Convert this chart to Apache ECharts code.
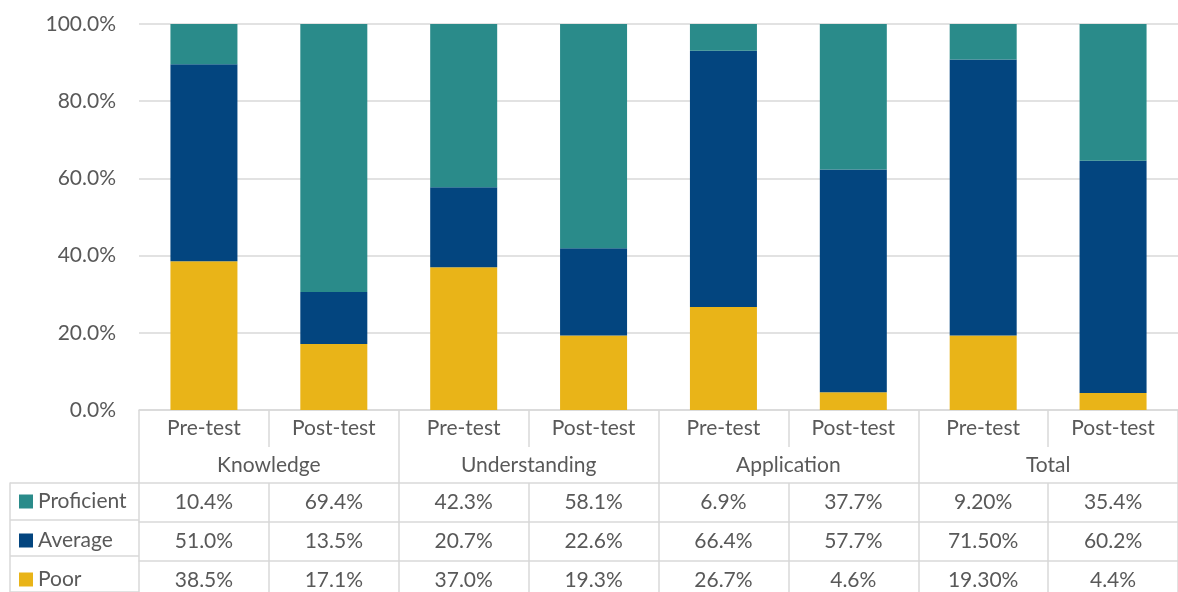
<!DOCTYPE html>
<html>
<head>
<meta charset="utf-8">
<script src="https://cdn.jsdelivr.net/npm/echarts@6/dist/echarts.min.js"></script>
<style>
  html, body { margin: 0; padding: 0; background: #fff; }
  #chart { width: 1178px; height: 592px; }
</style>
</head>
<body>
<div id="chart"></div>
<script>
// data
const categories = ['Pre-test', 'Post-test', 'Pre-test', 'Post-test', 'Pre-test', 'Post-test', 'Pre-test', 'Post-test']
const groups = ['Knowledge', 'Understanding', 'Application', 'Total']
const seriesNames = ['Proficient', 'Average', 'Poor']
const proficient = [10.4, 69.4, 42.3, 58.1, 6.9, 37.7, 9.2, 35.4]
const average = [51.0, 13.5, 20.7, 22.6, 66.4, 57.7, 71.5, 60.2]
const poor = [38.5, 17.1, 37.0, 19.3, 26.7, 4.6, 19.3, 4.4]
const decimals = [1, 1, 1, 1, 1, 1, 2, 1] // how each column is printed in the table
const yMin = 0
const yMax = 100
const yStep = 20

const colors = { Proficient: '#2a8b8a', Average: '#03457f', Poor: '#e9b418' }
const textColor = '#595959'
const lineColor = '#d9d9d9'
const font = 'Lato'
const fontSize = 21

// 100% stacked: share of each column total
function share (arr, i) {
  let sum = proficient[i] + average[i] + poor[i]
  return arr[i] / sum * 100
}
function pct (arr) {
  return arr.map((v, i) => share(arr, i))
}
function fmt (arr) {
  return arr.map((v, i) => v.toFixed(decimals[i]) + '%')
}

let chart = echarts.init(document.getElementById('chart'))

let lineStyle = { color: lineColor, width: 1.5 }
let labelStyle = { color: textColor, fontFamily: font, fontSize: fontSize }

// one axis per table row, hung below the plot; the row key sits in the axis name
function tableRow (name, data, offset) {
  let rich = { t: { color: textColor, fontFamily: font, fontSize: fontSize, padding: [0, 0, 0, 5] } }
  rich[name] = { width: 14, height: 14, backgroundColor: colors[name] }
  return {
    type: 'category',
    gridIndex: 0,
    position: 'bottom',
    offset: offset,
    data: data,
    name: '{' + name + '|}{t|' + name + '}',
    nameLocation: 'start',
    nameGap: 120,
    nameTextStyle: { align: 'left', verticalAlign: 'top', padding: [8, 0, 0, 0], rich: rich },
    axisLine: { show: true, lineStyle: lineStyle },
    axisTick: { show: true, length: 39, interval: 0, lineStyle: lineStyle },
    axisLabel: Object.assign({ interval: 0, margin: 9 }, labelStyle),
    splitLine: { show: false }
  }
}

let option = {
  animation: false,
  textStyle: { fontFamily: font },
  grid: [
    { left: 139, right: 0, top: 24, bottom: 182 },
    { left: 10, width: 129, top: 483, height: 117 }
  ],
  xAxis: [
    {
      type: 'category',
      gridIndex: 0,
      position: 'bottom',
      data: categories,
      axisLine: { show: true, lineStyle: lineStyle },
      axisTick: { show: true, length: 37, interval: 0, lineStyle: lineStyle },
      axisLabel: Object.assign({ interval: 0, margin: 8 }, labelStyle)
    },
    {
      type: 'category',
      gridIndex: 0,
      position: 'bottom',
      data: groups,
      axisLine: { show: false },
      axisTick: { show: true, length: 73, interval: 0, lineStyle: lineStyle },
      axisLabel: Object.assign({ interval: 0, margin: 45 }, labelStyle)
    },
    tableRow('Proficient', fmt(proficient), 73),
    tableRow('Average', fmt(average), 112),
    tableRow('Poor', fmt(poor), 151),
    {
      type: 'value',
      gridIndex: 1,
      show: false
    }
  ],
  yAxis: [
    {
      type: 'value',
      gridIndex: 0,
      min: yMin,
      max: yMax,
      interval: yStep,
      axisLine: { show: false },
      axisTick: { show: false },
      splitLine: { lineStyle: lineStyle },
      axisLabel: Object.assign({
        margin: 23,
        formatter: function (v) { return v.toFixed(1) + '%' }
      }, labelStyle)
    },
    {
      // left edge and row lines of the key column
      type: 'category',
      gridIndex: 1,
      inverse: true,
      data: seriesNames,
      axisLine: { show: true, lineStyle: lineStyle },
      axisTick: { show: false },
      axisLabel: { show: false },
      splitLine: { show: true, lineStyle: lineStyle }
    }
  ],
  series: [
    {
      name: 'Poor',
      type: 'bar',
      stack: 'total',
      barWidth: 67,
      xAxisIndex: 0,
      yAxisIndex: 0,
      itemStyle: { color: colors.Poor },
      data: pct(poor)
    },
    {
      name: 'Average',
      type: 'bar',
      stack: 'total',
      barWidth: 67,
      xAxisIndex: 0,
      yAxisIndex: 0,
      itemStyle: { color: colors.Average },
      data: pct(average)
    },
    {
      name: 'Proficient',
      type: 'bar',
      stack: 'total',
      barWidth: 67,
      xAxisIndex: 0,
      yAxisIndex: 0,
      itemStyle: { color: colors.Proficient },
      data: pct(proficient)
    }
  ]
}
chart.setOption(option)
</script>
</body>
</html>
